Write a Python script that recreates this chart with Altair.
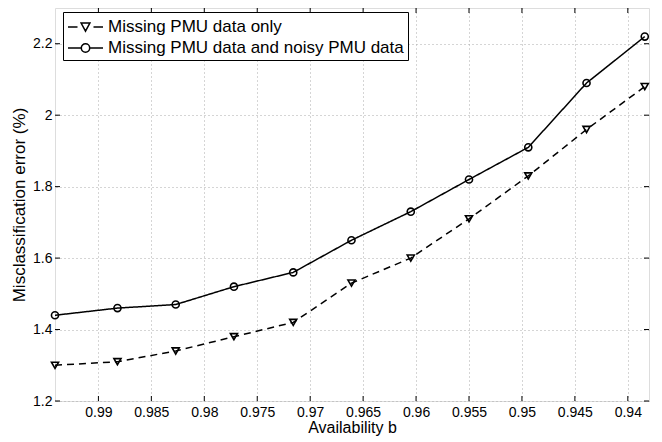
import altair as alt
import pandas as pd

# ---- data ----
availability = [0.9941, 0.9882, 0.9827, 0.9772, 0.9716, 0.9661, 0.9605, 0.9550, 0.9494, 0.9439, 0.9384]
missing_only = [1.30, 1.31, 1.34, 1.38, 1.42, 1.53, 1.60, 1.71, 1.83, 1.96, 2.08]
missing_noisy = [1.44, 1.46, 1.47, 1.52, 1.56, 1.65, 1.73, 1.82, 1.91, 2.09, 2.22]
series_names = ["Missing PMU data only", "Missing PMU data and noisy PMU data"]
x_ticks = [0.99, 0.985, 0.98, 0.975, 0.97, 0.965, 0.96, 0.955, 0.95, 0.945, 0.94]
y_ticks = [1.2, 1.4, 1.6, 1.8, 2.0, 2.2]
x_domain = [0.938, 0.9941]
y_domain = [1.2, 2.3]

rows = []
for xv, a, b in zip(availability, missing_only, missing_noisy):
    rows.append({"x": xv, "y": a, "series": series_names[0]})
    rows.append({"x": xv, "y": b, "series": series_names[1]})
df = pd.DataFrame(rows)
xt = pd.DataFrame({"t": x_ticks})
yt = pd.DataFrame({"t": y_ticks})

W, H = 594, 393
FONT = "Liberation Sans"

xscale = alt.Scale(domain=x_domain, reverse=True, nice=False, zero=False)
yscale = alt.Scale(domain=y_domain, nice=False, zero=False)

xaxis = alt.Axis(values=x_ticks, format=".3~f", title="Availability b", grid=True,
                 ticks=False, domain=False, labelPadding=4, titlePadding=0,
                 labelFontSize=14, titleFontSize=16, labelFont=FONT, titleFont=FONT,
                 labelColor="black", titleColor="black", titleFontWeight="normal",
                 gridDash=[1, 3], gridColor="#aaaaaa", gridWidth=1, labelFlush=False)
yaxis = alt.Axis(values=y_ticks, format=".1~f", title="Misclassification error (%)", grid=True,
                 ticks=False, domain=False, labelPadding=3, titlePadding=4,
                 labelFontSize=14, titleFontSize=17, labelFont=FONT, titleFont=FONT,
                 labelColor="black", titleColor="black", titleFontWeight="normal",
                 gridDash=[1, 3], gridColor="#aaaaaa", gridWidth=1, labelFlush=False)

base = alt.Chart(df)

lines = base.mark_line(color="black", strokeWidth=1.5).encode(
    x=alt.X("x:Q", scale=xscale, axis=xaxis),
    y=alt.Y("y:Q", scale=yscale, axis=yaxis),
    strokeDash=alt.StrokeDash("series:N", scale=alt.Scale(domain=series_names, range=[[7, 5], [1, 0]]), legend=None),
    detail="series:N",
)

points = base.mark_point(filled=False, color="black", strokeWidth=1.6, size=50, opacity=1).encode(
    x="x:Q", y="y:Q",
    shape=alt.Shape("series:N", scale=alt.Scale(domain=series_names, range=["triangle-down", "circle"]), legend=None),
)

# legend glyphs: unit = 10 px (symbolSize 400), drawn from -1 to 2.5 units
path_tri = "M-1,0H-0.05M1.55,0H2.5M0.31,-0.4L1.19,-0.4L0.75,0.42Z"
path_circ = "M-1,0H0.33M1.17,0H2.5M0.33,0A0.42,0.42 0 1,0 1.17,0A0.42,0.42 0 1,0 0.33,0Z"

legend_layer = base.transform_filter("false").mark_point(filled=False, color="black", strokeWidth=1.5, opacity=1).encode(
    x="x:Q", y="y:Q",
    shape=alt.Shape("series:N", scale=alt.Scale(domain=series_names, range=[path_tri, path_circ]),
                    legend=alt.Legend(title=None, orient="none", legendX=8, legendY=4,
                                      symbolSize=400, symbolStrokeWidth=1.5, symbolStrokeColor="black",
                                      labelFontSize=17, labelFont=FONT, labelColor="black",
                                      labelLimit=500, labelOffset=19, padding=4, rowPadding=2,
                                      strokeColor="black", fillColor="white", cornerRadius=0)),
)

tick_len = 5
bottom_ticks = alt.Chart(xt).mark_rule(color="black", strokeWidth=1).encode(
    x=alt.X("t:Q", scale=xscale), y=alt.value(H), y2=alt.value(H - tick_len))
top_ticks = alt.Chart(xt).mark_rule(color="black", strokeWidth=1).encode(
    x=alt.X("t:Q", scale=xscale), y=alt.value(0), y2=alt.value(tick_len))
left_ticks = alt.Chart(yt).mark_rule(color="black", strokeWidth=1).encode(
    y=alt.Y("t:Q", scale=yscale), x=alt.value(0), x2=alt.value(tick_len))
right_ticks = alt.Chart(yt).mark_rule(color="black", strokeWidth=1).encode(
    y=alt.Y("t:Q", scale=yscale), x=alt.value(W), x2=alt.value(W - tick_len))

chart = alt.layer(
    lines, points, legend_layer, bottom_ticks, top_ticks, left_ticks, right_ticks
).resolve_scale(shape="independent").properties(
    width=W, height=H,
    autosize=alt.AutoSizeParams(type="none"),
    padding={"left": 47, "top": 0, "right": 5, "bottom": 40},
).configure_view(stroke="black", strokeWidth=1.3).configure(background="white")

chart.save("out.html", embed_options={"renderer": "svg", "actions": False})
